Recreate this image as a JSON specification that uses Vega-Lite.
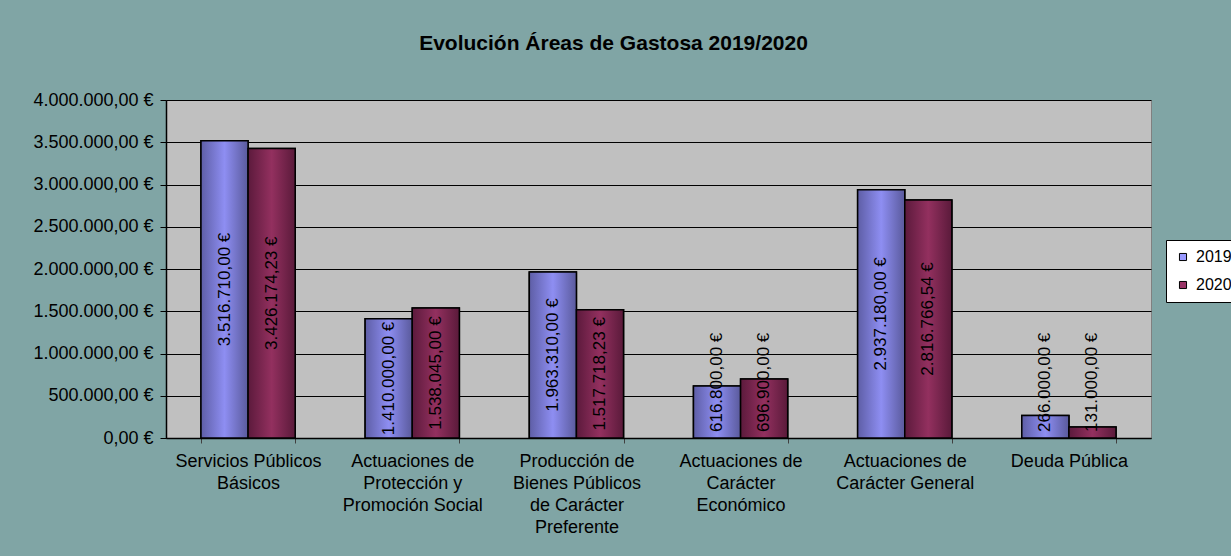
{
  "$schema": "https://vega.github.io/schema/vega-lite/v6.json",
  "width": 985,
  "height": 338,
  "autosize": "none",
  "padding": {"left": 166, "top": 100, "right": 80, "bottom": 118},
  "background": "#80a5a5",
  "config": {
    "locale": {"number": {"decimal": ",", "thousands": ".", "grouping": [3], "currency": ["", " €"]}},
    "font": "Liberation Sans",
    "view": {"fill": "#c0c0c0", "stroke": "#808080", "strokeWidth": 1}
  },
  "title": {
    "text": "Evolución Áreas de Gastosa 2019/2020",
    "font": "Liberation Sans",
    "fontSize": 21,
    "fontWeight": "bold",
    "color": "#000000",
    "anchor": "middle",
    "frame": "group",
    "offset": 37,
    "dx": -45
  },
  "data": {
    "values": [
      {"area": "Servicios Públicos Básicos", "year": "2019", "value": 3516710.00},
      {"area": "Servicios Públicos Básicos", "year": "2020", "value": 3426174.23},
      {"area": "Actuaciones de Protección y Promoción Social", "year": "2019", "value": 1410000.00},
      {"area": "Actuaciones de Protección y Promoción Social", "year": "2020", "value": 1538045.00},
      {"area": "Producción de Bienes Públicos de Carácter Preferente", "year": "2019", "value": 1963310.00},
      {"area": "Producción de Bienes Públicos de Carácter Preferente", "year": "2020", "value": 1517718.23},
      {"area": "Actuaciones de Carácter Económico", "year": "2019", "value": 616800.00},
      {"area": "Actuaciones de Carácter Económico", "year": "2020", "value": 696900.00},
      {"area": "Actuaciones de Carácter General", "year": "2019", "value": 2937180.00},
      {"area": "Actuaciones de Carácter General", "year": "2020", "value": 2816766.54},
      {"area": "Deuda Pública", "year": "2019", "value": 266000.00},
      {"area": "Deuda Pública", "year": "2020", "value": 131000.00}
    ]
  },
  "encoding": {
    "x": {
      "field": "area",
      "type": "nominal",
      "sort": null,
      "scale": {"paddingInner": 0.426, "paddingOuter": 0.213},
      "axis": {
        "title": null,
        "labelAngle": 0,
        "labelFont": "Liberation Sans",
        "labelFontSize": 18,
        "labelColor": "#000000",
        "labelLineHeight": 22,
        "labelBaseline": "top",
        "labelPadding": 9,
        "labelOverlap": false,
        "labelLimit": 400,
        "tickBand": "extent",
        "tickSize": 5,
        "tickColor": "#404040",
        "domainColor": "#000000",
        "domainWidth": 1.5,
        "labelExpr": "({'Servicios Públicos Básicos': ['Servicios Públicos', 'Básicos'], 'Actuaciones de Protección y Promoción Social': ['Actuaciones de', 'Protección y', 'Promoción Social'], 'Producción de Bienes Públicos de Carácter Preferente': ['Producción de', 'Bienes Públicos', 'de Carácter', 'Preferente'], 'Actuaciones de Carácter Económico': ['Actuaciones de', 'Carácter', 'Económico'], 'Actuaciones de Carácter General': ['Actuaciones de', 'Carácter General'], 'Deuda Pública': ['Deuda Pública']})[datum.label]"
      }
    },
    "xOffset": {"field": "year", "type": "nominal", "scale": {"paddingInner": 0, "paddingOuter": 0}}
  },
  "layer": [
    {
      "mark": {"type": "bar", "stroke": "#000000", "strokeWidth": 1.5},
      "encoding": {
        "y": {
          "field": "value",
          "type": "quantitative",
          "scale": {"domain": [0, 4000000], "nice": false},
          "axis": {
            "title": null,
            "values": [0, 500000, 1000000, 1500000, 2000000, 2500000, 3000000, 3500000, 4000000],
            "format": "$,.2f",
            "labelFont": "Liberation Sans",
            "labelFontSize": 18,
            "labelColor": "#000000",
            "labelPadding": 7,
            "grid": true,
            "gridColor": "#000000",
            "gridWidth": 1,
            "tickColor": "#000000",
            "tickSize": 6,
            "domainColor": "#000000",
            "domainWidth": 1.5
          }
        },
        "fill": {
          "field": "year",
          "type": "nominal",
          "scale": {"range": ["#9999ff", "#993366"]},
          "legend": {
            "title": null,
            "orient": "none",
            "legendX": 1000,
            "legendY": 140,
            "fillColor": "#ffffff",
            "strokeColor": "#000000",
            "padding": 9,
            "symbolType": "square",
            "symbolSize": 50,
            "symbolStrokeColor": "#000000",
            "symbolStrokeWidth": 1,
            "labelFont": "Liberation Sans",
            "labelFontSize": 16,
            "labelColor": "#000000",
            "rowPadding": 12,
            "labelOffset": 5
          }
        }
      }
    },
    {
      "mark": {"type": "bar", "stroke": "#000000", "strokeWidth": 1.5},
      "encoding": {
        "y": {"field": "value", "type": "quantitative"},
        "fill": {
          "condition": {
            "test": "datum.year == '2019'",
            "value": {"gradient": "linear", "x1": 0, "y1": 0, "x2": 1, "y2": 0, "stops": [
              {"offset": 0, "color": "#5e5ea6"},
              {"offset": 0.5, "color": "#8e8ef2"},
              {"offset": 1, "color": "#5a5a9c"}
            ]}
          },
          "value": {"gradient": "linear", "x1": 0, "y1": 0, "x2": 1, "y2": 0, "stops": [
            {"offset": 0, "color": "#5c1a3c"},
            {"offset": 0.5, "color": "#93305f"},
            {"offset": 1, "color": "#5a1a3a"}
          ]}
        }
      }
    },
    {
      "transform": [
        {"filter": "datum.value >= 1000000"},
        {"calculate": "datum.value / 2", "as": "mid"}
      ],
      "mark": {"type": "text", "angle": -90, "align": "center", "baseline": "middle", "font": "Liberation Sans", "fontSize": 17, "color": "#000000"},
      "encoding": {
        "y": {"field": "mid", "type": "quantitative"},
        "text": {"field": "value", "type": "quantitative", "format": "$,.2f"}
      }
    },
    {
      "transform": [
        {"filter": "datum.value < 1000000"}
      ],
      "mark": {"type": "text", "angle": -90, "align": "left", "baseline": "middle", "dx": 6, "font": "Liberation Sans", "fontSize": 17, "color": "#000000"},
      "encoding": {
        "y": {"datum": 0, "type": "quantitative"},
        "text": {"field": "value", "type": "quantitative", "format": "$,.2f"}
      }
    }
  ]
}
